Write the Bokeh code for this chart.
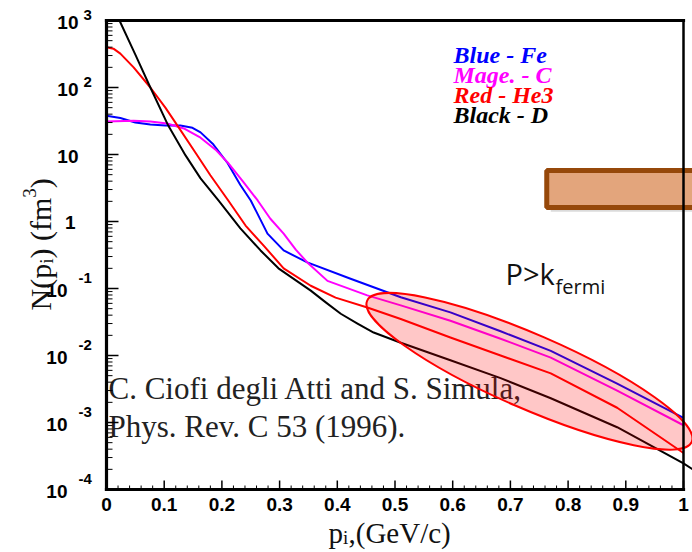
import math
from bokeh.plotting import figure
from bokeh.models import Range1d, Label
from bokeh.embed import file_html
from bokeh.resources import INLINE

# ---- data ----
fe_x = [0.0, 0.024, 0.05, 0.076, 0.102, 0.128, 0.149, 0.163, 0.184, 0.21, 0.232, 0.25,
        0.279, 0.307, 0.348, 0.423, 0.51, 0.596, 0.683, 0.77, 0.885, 1.0]
fe_y = [38, 35, 30, 28, 27, 27, 25, 21.4, 14.5, 7.4, 3.5, 2.06,
        0.66, 0.37, 0.245, 0.14, 0.074, 0.044, 0.023, 0.0117, 0.0038, 0.00117]

c_x = [0.0, 0.047, 0.076, 0.105, 0.134, 0.163, 0.189, 0.21, 0.236, 0.262, 0.284, 0.307,
       0.328, 0.348, 0.383, 0.452, 0.51, 0.596, 0.683, 0.77, 0.885, 1.0]
c_y = [31, 32, 31, 29, 24.5, 17.8, 11.8, 7.6, 4.0, 2.06, 1.1, 0.66,
       0.38, 0.245, 0.13, 0.079, 0.056, 0.033, 0.0178, 0.0093, 0.003, 0.00091]

he3_x = [0.0, 0.012, 0.024, 0.047, 0.076, 0.102, 0.123, 0.154, 0.18, 0.211, 0.241, 0.272,
         0.307, 0.354, 0.397, 0.452, 0.51, 0.596, 0.683, 0.77, 0.885, 1.0]
he3_y = [400, 380, 320, 200, 100, 50, 27, 10.7, 4.9, 2.06, 0.87, 0.44,
         0.2, 0.11, 0.073, 0.052, 0.035, 0.0186, 0.010, 0.0054, 0.00166, 0.00035]

d_x = [0.0225, 0.05, 0.076, 0.107, 0.137, 0.163, 0.194, 0.232, 0.267, 0.298, 0.354,
       0.38, 0.406, 0.435, 0.463, 0.51, 0.596, 0.683, 0.77, 0.885, 1.0, 1.016]
d_y = [1000, 310, 100, 27, 9.7, 4.4, 2.06, 0.79, 0.37, 0.2, 0.093,
       0.062, 0.042, 0.03, 0.022, 0.0155, 0.0085, 0.0046, 0.0023, 0.00085, 0.000245, 0.0002]

series_names = ["Blue - Fe", "Mage. - C", "Red - He3", "Black - D"]
series_colors = ["#0000ff", "#ff00ff", "#ff0000", "#000000"]

x_ticks = [0, 0.1, 0.2, 0.3, 0.4, 0.5, 0.6, 0.7, 0.8, 0.9, 1.0]
x_tick_labels = ["0", "0.1", "0.2", "0.3", "0.4", "0.5", "0.6", "0.7", "0.8", "0.9", "1"]
y_decades = [3, 2, 1, 0, -1, -2, -3, -4]

cite_lines = ["C. Ciofi degli Atti and S. Simula,", "Phys. Rev. C 53 (1996)."]

# ---- layout (pixels) ----
W, H = 692, 552
FL, FT, FB = 106, 20, 489          # plot-box left / top / bottom in page pixels
PX_X = 577.0                        # pixels per unit x
PX_DEC = (FB - FT) / 7.0            # pixels per decade
XMIN, XMAX = 0.0, 1.0
YMIN, YMAX = 1e-4, 1e3

x_lo = XMIN - FL / PX_X
x_hi = XMIN + (W - FL) / PX_X
y_lo = 10 ** (math.log10(YMIN) - (H - FB) / PX_DEC)
y_hi = 10 ** (math.log10(YMAX) + FT / PX_DEC)

p = figure(width=W, height=H, output_backend="svg", toolbar_location=None,
           x_range=Range1d(x_lo, x_hi), y_range=Range1d(y_lo, y_hi),
           y_axis_type="log", x_axis_location=None, y_axis_location=None)
p.min_border = 0
p.outline_line_color = None
p.grid.visible = False
p.background_fill_color = "white"
p.border_fill_color = "white"

def sy(py):          # page y -> label screen y (from bottom)
    return H - py

# citation text (under the highlight ellipse)
for i, line in enumerate(cite_lines):
    p.add_layout(Label(x=108, y=sy(405 + 38 * i), x_units="screen", y_units="screen", text=line,
                       text_font="Liberation Serif", text_font_size="31px",
                       text_color="#222222", level="underlay"))

# curves
for xs, ys, col in [(fe_x, fe_y, series_colors[0]), (c_x, c_y, series_colors[1]),
                    (he3_x, he3_y, series_colors[2]), (d_x, d_y, series_colors[3])]:
    p.line(xs, ys, line_color=col, line_width=2, line_join="round")

# highlight ellipse
p.ellipse(x=[0.733], y=[0.0058], width=354, height=74, angle=-0.41,
          width_units="screen", height_units="screen",
          fill_color="#ff0000", fill_alpha=0.22, line_color="#ff0000", line_width=2)

# orange box with shadow
p.quad(left=[0.770], right=[1.1], bottom=[1.40], top=[5.0],
       fill_color="#888888", fill_alpha=0.3, line_color=None)
p.quad(left=[0.763], right=[1.1], bottom=[1.62], top=[5.77],
       fill_color="#e3a57c", line_color="#96480a", line_width=5)

# ---- axes drawn by hand ----
up = lambda v, px: v * 10 ** (px / PX_DEC)
x_minor = [i * 0.02 for i in range(0, 51) if i % 5 != 0]
p.segment(x0=x_ticks, y0=[YMIN] * len(x_ticks), x1=x_ticks, y1=[up(YMIN, 9)] * len(x_ticks),
          line_color="black", line_width=1.5)
p.segment(x0=x_minor, y0=[YMIN] * len(x_minor), x1=x_minor, y1=[up(YMIN, 4)] * len(x_minor),
          line_color="black", line_width=1)
y_major = [10.0 ** k for k in y_decades]
y_minor = [m * 10.0 ** k for k in range(-4, 3) for m in range(2, 10)]
p.segment(x0=[XMIN] * len(y_major), y0=y_major, x1=[XMIN + 12 / PX_X] * len(y_major), y1=y_major,
          line_color="black", line_width=1.5)
p.segment(x0=[XMIN] * len(y_minor), y0=y_minor, x1=[XMIN + 6 / PX_X] * len(y_minor), y1=y_minor,
          line_color="black", line_width=1)
p.segment(x0=[XMIN, XMIN, XMIN], y0=[YMIN, YMIN, YMAX], x1=[XMIN, XMAX, XMAX], y1=[YMAX, YMIN, YMAX],
          line_color="black", line_width=3.2, line_cap="square")
p.segment(x0=[XMAX], y0=[YMIN], x1=[XMAX], y1=[YMAX], line_color="black", line_width=2.5)

# x tick labels
for xv, txt in zip(x_ticks, x_tick_labels):
    p.add_layout(Label(x=FL + xv * PX_X, y=sy(504), x_units="screen", y_units="screen", text=txt,
                       text_align="center", text_baseline="middle",
                       text_font="Liberation Sans", text_font_style="bold",
                       text_font_size="19px", text_color="black"))

# y tick labels
lab_kw = dict(text_font="Liberation Sans", text_font_style="bold", text_color="black",
              x_units="screen", y_units="screen", text_baseline="middle")
for k in y_decades:
    py = FT + (3 - k) * PX_DEC
    if k == 0:
        p.add_layout(Label(x=75, y=sy(py + 1), text="1", text_align="right",
                           text_font_size="19px", **lab_kw))
    elif k == 1:
        p.add_layout(Label(x=78, y=sy(py + 2), text="10", text_align="right",
                           text_font_size="19px", **lab_kw))
    elif k > 1:
        p.add_layout(Label(x=78, y=sy(py + 2), text="10", text_align="right",
                           text_font_size="19px", **lab_kw))
        p.add_layout(Label(x=83, y=sy(py - 6), text=str(k), text_align="left",
                           text_font_size="15px", **lab_kw))
    else:
        p.add_layout(Label(x=67, y=sy(py + 2), text="10", text_align="right",
                           text_font_size="19px", **lab_kw))
        p.add_layout(Label(x=78, y=sy(py - 11), text=str(k), text_align="left",
                           text_font_size="15px", **lab_kw))

# legend texts
for i, (name, col) in enumerate(zip(series_names, series_colors)):
    p.add_layout(Label(x=453, y=sy(67 + 20 * i), x_units="screen", y_units="screen", text=name,
                       text_font="Liberation Serif", text_font_style="bold italic",
                       text_font_size="24px", text_color=col))

# P > k_fermi
p.add_layout(Label(x=505, y=sy(292), x_units="screen", y_units="screen", text="P>k",
                   text_font="Open Sans", text_font_size="29px", text_color="#111111"))
p.add_layout(Label(x=555, y=sy(299), x_units="screen", y_units="screen", text="fermi",
                   text_font="Open Sans", text_font_size="20px", text_color="#111111"))

# axis titles
tkw = dict(x_units="screen", y_units="screen", text_font="Liberation Serif",
           text_color="#111111", text_baseline="alphabetic", text_align="left")
rot = math.pi / 2
p.add_layout(Label(x=40, y=sy(310), text="N(p", angle=rot, text_font_size="30px", **tkw))
p.add_layout(Label(x=46, y=sy(310) + 46.7, text="i", angle=rot, text_font_size="19px", **tkw))
p.add_layout(Label(x=40, y=sy(310) + 52, text=") (fm", angle=rot, text_font_size="30px", **tkw))
p.add_layout(Label(x=29, y=sy(310) + 112.8, text="3", angle=rot, text_font_size="19px", **tkw))
p.add_layout(Label(x=40, y=sy(310) + 122.3, text=")", angle=rot, text_font_size="30px", **tkw))

p.add_layout(Label(x=328, y=sy(532), text="p", text_font_size="29px", **tkw))
p.add_layout(Label(x=342.5, y=sy(537), text="i", text_font_size="19px", **tkw))
p.add_layout(Label(x=348, y=sy(532), text=",(GeV/c)", text_font_size="29px", **tkw))

open("out.html", "w").write(file_html(p, INLINE))
